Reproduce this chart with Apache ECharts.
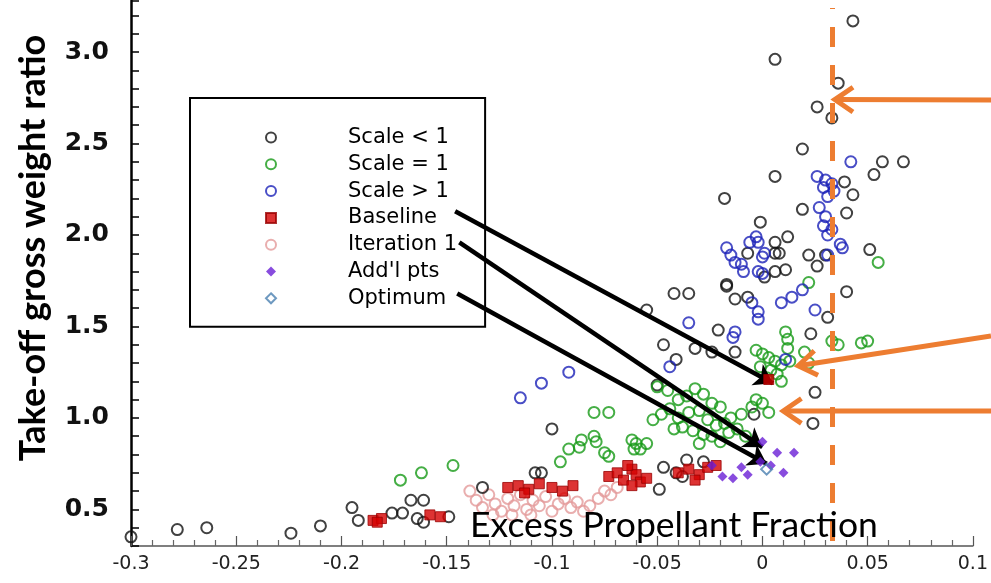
<!DOCTYPE html>
<html><head><meta charset="utf-8">
<script src="https://cdn.jsdelivr.net/npm/echarts@6/dist/echarts.min.js"></script>
<style>html,body{margin:0;padding:0;background:#fff}#c{width:991px;height:583px}</style>
</head><body><div id="c"></div>
<script>
// ---- data (x = excess propellant fraction, y = take-off gross weight ratio) ----
const seriesNames = ['Scale < 1', 'Scale = 1', 'Scale > 1', 'Baseline', 'Iteration 1', "Add'l pts", 'Optimum'];

const scaleLt1 = [
  [-0.300,0.35],[-0.278,0.39],[-0.264,0.40],[-0.224,0.37],[-0.210,0.41],[-0.195,0.51],[-0.192,0.44],
  [-0.176,0.48],[-0.171,0.48],[-0.167,0.55],[-0.161,0.55],[-0.164,0.45],[-0.161,0.43],[-0.149,0.46],
  [-0.133,0.62],[-0.108,0.70],[-0.105,0.70],[-0.100,0.94],[-0.050,1.18],[-0.047,0.73],[-0.041,0.70],
  [-0.049,0.61],[-0.036,0.77],[-0.028,0.76],[-0.038,0.68],
  [0.043,3.17],[0.006,2.96],[0.036,2.83],[0.026,2.70],[0.033,2.64],[0.019,2.47],[0.057,2.40],[0.067,2.40],
  [0.053,2.33],[0.006,2.32],[-0.018,2.20],[0.039,2.29],[0.043,2.22],[0.040,2.12],[0.019,2.14],[-0.001,2.07],
  [0.012,1.99],[0.006,1.96],[0.051,1.92],[-0.007,1.90],[0.006,1.90],[0.008,1.90],[0.022,1.89],[0.030,1.89],
  [0.011,1.81],[0.026,1.83],[-0.017,1.73],[-0.042,1.68],[-0.035,1.68],[-0.017,1.72],[-0.013,1.65],[-0.007,1.66],
  [0.001,1.77],[0.006,1.80],[-0.055,1.59],[-0.021,1.48],[-0.047,1.40],[-0.041,1.32],[-0.032,1.38],[-0.024,1.36],
  [-0.013,1.36],[0.023,1.46],[0.031,1.55],[0.040,1.69],[0.025,1.14],[0.024,0.97],[-0.004,1.02]
];

const scaleEq1 = [
  [-0.172,0.66],[-0.162,0.70],[-0.147,0.74],[-0.096,0.76],[-0.092,0.83],[-0.087,0.84],[-0.080,0.90],
  [-0.079,0.87],[-0.075,0.81],[-0.080,1.03],[-0.073,1.03],[-0.086,0.88],[-0.073,0.79],[-0.062,0.88],
  [-0.061,0.83],[-0.060,0.86],[-0.055,0.86],[-0.058,0.83],
  [-0.050,1.17],[-0.045,1.15],[-0.040,1.10],[-0.036,1.12],[-0.032,1.16],[-0.028,1.13],[-0.024,1.08],
  [-0.020,1.06],[-0.044,1.05],[-0.048,1.02],[-0.052,0.99],[-0.040,1.00],[-0.035,1.03],[-0.030,1.04],
  [-0.026,0.99],[-0.022,0.96],[-0.018,0.97],[-0.038,0.95],[-0.033,0.93],[-0.028,0.91],[-0.024,0.90],
  [-0.016,0.92],[-0.012,0.94],[-0.008,0.90],[-0.010,1.02],[-0.005,1.06],[-0.003,1.10],[0.000,1.08],
  [0.003,1.03],[-0.015,1.00],[-0.020,0.87],[-0.030,0.86],[-0.042,0.94],
  [-0.003,1.37],[0.000,1.35],[0.003,1.33],[0.006,1.31],[0.009,1.29],[-0.001,1.28],[0.004,1.26],[0.007,1.24],
  [0.002,1.22],[0.009,1.20],[0.012,1.38],[0.013,1.31],[0.020,1.36],[0.022,1.30],[0.033,1.42],[0.036,1.40],
  [0.050,1.42],[0.047,1.41],[0.011,1.47],[0.012,1.43],[0.055,1.85],[0.022,1.74]
];

const scaleGt1 = [
  [0.042,2.40],[0.026,2.32],[0.030,2.30],[0.033,2.28],[0.029,2.26],[0.034,2.24],[0.031,2.21],[0.027,2.15],
  [0.030,2.10],[0.029,2.05],[0.033,2.03],[0.031,2.00],[0.037,1.95],[0.038,1.93],[0.031,1.89],
  [-0.017,1.93],[-0.015,1.89],[-0.013,1.85],[-0.010,1.84],[-0.009,1.80],[-0.003,1.99],[-0.002,1.96],
  [-0.006,1.96],[0.000,1.88],[0.001,1.90],[-0.002,1.80],[0.000,1.79],
  [-0.005,1.63],[-0.002,1.58],[-0.002,1.54],[0.009,1.63],[0.014,1.66],[0.019,1.70],[0.025,1.59],
  [-0.035,1.52],[-0.013,1.47],[-0.014,1.44],[-0.044,1.28],[0.011,1.32],
  [-0.092,1.25],[-0.105,1.19],[-0.115,1.11]
];

const baseline = [
  [-0.185,0.44],[-0.181,0.45],[-0.183,0.43],[-0.158,0.47],[-0.153,0.46],
  [-0.121,0.62],[-0.116,0.63],[-0.111,0.61],[-0.106,0.64],[-0.100,0.62],[-0.095,0.60],[-0.090,0.63],[-0.113,0.59],
  [-0.073,0.68],[-0.069,0.70],[-0.066,0.66],[-0.062,0.72],[-0.060,0.69],[-0.064,0.74],
  [-0.058,0.65],[-0.055,0.67],[-0.062,0.63],
  [-0.040,0.70],[-0.035,0.72],[-0.030,0.69],[-0.026,0.73],[-0.032,0.66],[-0.022,0.74],
  [0.003,1.21]
];

const iteration1 = [
  [-0.139,0.60],[-0.136,0.55],[-0.133,0.51],[-0.130,0.58],[-0.127,0.53],[-0.124,0.49],[-0.121,0.56],
  [-0.118,0.52],[-0.115,0.58],[-0.112,0.50],[-0.109,0.55],[-0.106,0.52],[-0.103,0.57],[-0.100,0.49],
  [-0.097,0.53],[-0.094,0.56],[-0.091,0.51],[-0.088,0.54],[-0.085,0.49],[-0.082,0.52],[-0.078,0.56],
  [-0.075,0.60],[-0.072,0.58],[-0.069,0.62],[-0.128,0.47],[-0.119,0.47],[-0.110,0.47]
];

const addlPts = [
  [-0.024,0.74],[-0.019,0.68],[-0.014,0.67],[-0.007,0.69],[0.000,0.87],[0.007,0.81],[0.015,0.81],
  [-0.001,0.76],[0.004,0.74],[-0.010,0.73],[0.010,0.70]
];

const optimum = [[0.002,0.72]];

// annotation anchors (data units)
const limitX = 0.033;                       // dashed vertical limit line
const blackArrows = [                        // legend text -> point
  [[-0.146,2.13],[0.005,1.19]],
  [[-0.144,1.96],[0.000,0.84]],
  [[-0.145,1.68],[0.002,0.75]]
];
const orangeTips = [[0.0344,2.74],[0.017,1.285],[0.0099,1.038]];
const orangeStartY = [100, 336, 411];        // pixel rows where orange arrows enter from the right edge

// ---- chart ----
const chart = echarts.init(document.getElementById('c'), null, {renderer:'canvas'});
const openStyle = c => ({color:'rgba(255,255,255,0)', borderColor:c, borderWidth:2});

const option = {
  animation:false,
  backgroundColor:'#fff',
  grid:{left:131, right:12, top:0.8, bottom:37, containLabel:false},
  xAxis:{
    type:'value', min:-0.3, max:0.1, interval:0.05,
    axisLine:{onZero:false, lineStyle:{color:'#555', width:1.5}},
    axisTick:{inside:true, length:10, lineStyle:{color:'#555', width:1.2}},
    minorTick:{show:true, splitNumber:5, length:6, lineStyle:{color:'#666', width:1.2}},
    axisLabel:{color:'#222', fontFamily:'DejaVu Sans', fontSize:19, margin:9},
    splitLine:{show:false}
  },
  yAxis:{
    type:'value', min:0.3, max:3.28, interval:0.1,
    axisLine:{show:true, onZero:false, lineStyle:{color:'#000', width:2.5}},
    axisTick:{show:true, inside:true, length:8, lineStyle:{color:'#000', width:1.5}},
    axisLabel:{
      color:'#111', fontFamily:'DejaVu Sans', fontWeight:'bold', fontSize:25, margin:22,
      formatter: v => (Math.abs(v*2 - Math.round(v*2)) < 1e-6) ? v.toFixed(1) : ''
    },
    splitLine:{show:false}
  },
  legend:{
    orient:'vertical', left:190, top:98,
    data:seriesNames,
    backgroundColor:'#fff', borderColor:'#000', borderWidth:2,
    padding:[29,28,18,75],
    itemGap:5.8, itemWidth:10, itemHeight:10,
    textStyle:{color:'#000', fontFamily:'DejaVu Sans', fontSize:21, lineHeight:20, padding:[0,0,0,67]}
  },
  series:[
    {name:seriesNames[0], type:'scatter', symbol:'circle', symbolSize:11, data:scaleLt1, itemStyle:openStyle('#111'), z:3},
    {name:seriesNames[1], type:'scatter', symbol:'circle', symbolSize:11, data:scaleEq1, itemStyle:openStyle('#169a16'), z:4},
    {name:seriesNames[2], type:'scatter', symbol:'circle', symbolSize:11, data:scaleGt1, itemStyle:openStyle('#1c22b8'), z:4},
    {name:seriesNames[3], type:'scatter', symbol:'rect', symbolSize:10, data:baseline, itemStyle:{color:'#d40000', borderColor:'#900', borderWidth:1}, z:5},
    {name:seriesNames[4], type:'scatter', symbol:'circle', symbolSize:11, data:iteration1, itemStyle:openStyle('#e39a9a'), z:2},
    {name:seriesNames[5], type:'scatter', symbol:'diamond', symbolSize:10, data:addlPts, itemStyle:{color:'#6a1fd6'}, z:6},
    {name:seriesNames[6], type:'scatter', symbol:'diamond', symbolSize:11, data:optimum, itemStyle:openStyle('#4a7fb0'), z:6,
      markLine:{
        silent:true, symbol:['none','none'], label:{show:false}, animation:false,
        lineStyle:{color:'#ED7D31', width:5, type:[20,18]},
        data:[[{coord:[limitX,0.327]},{coord:[limitX,3.24]}]]
      }
    },
    {name:'arrows', type:'scatter', data:[], z:7,
      markLine:{
        silent:true, symbol:['none','arrow'], symbolSize:18, label:{show:false}, animation:false,
        lineStyle:{color:'#000', width:4.5, type:'solid'},
        data:blackArrows.map(a => [{coord:a[0]},{coord:a[1]}])
      }
    }
  ]
};
chart.setOption(option);

// ---- text + orange arrows as graphic elements ----
const W = chart.getWidth();
const g = [];
g.push({type:'text', x:33, y:248, rotation:Math.PI/2, z:10,
  style:{text:'Take-off gross weight ratio', fill:'#000', font:'bold 36px Lato', textAlign:'center', textVerticalAlign:'middle'}});
g.push({type:'text', x:470, y:526, z:10,
  style:{text:'Excess Propellant Fraction', fill:'#000', font:'35.5px Lato', textAlign:'left', textVerticalAlign:'middle'}});
orangeTips.forEach((t, i) => {
  const p = chart.convertToPixel({gridIndex:0}, t);
  const sy = orangeStartY[i];
  const ang = Math.atan2(sy - p[1], W - p[0]);
  const L = 22, a = 0.6;
  g.push({type:'line', z:10, shape:{x1:W, y1:sy, x2:p[0], y2:p[1]}, style:{stroke:'#ED7D31', lineWidth:5}});
  g.push({type:'polyline', z:10, shape:{points:[
      [p[0] + L*Math.cos(ang + a), p[1] + L*Math.sin(ang + a)],
      [p[0], p[1]],
      [p[0] + L*Math.cos(ang - a), p[1] + L*Math.sin(ang - a)]]},
    style:{stroke:'#ED7D31', lineWidth:5, fill:null, lineJoin:'miter'}});
});
chart.setOption({graphic:g});
</script></body></html>
